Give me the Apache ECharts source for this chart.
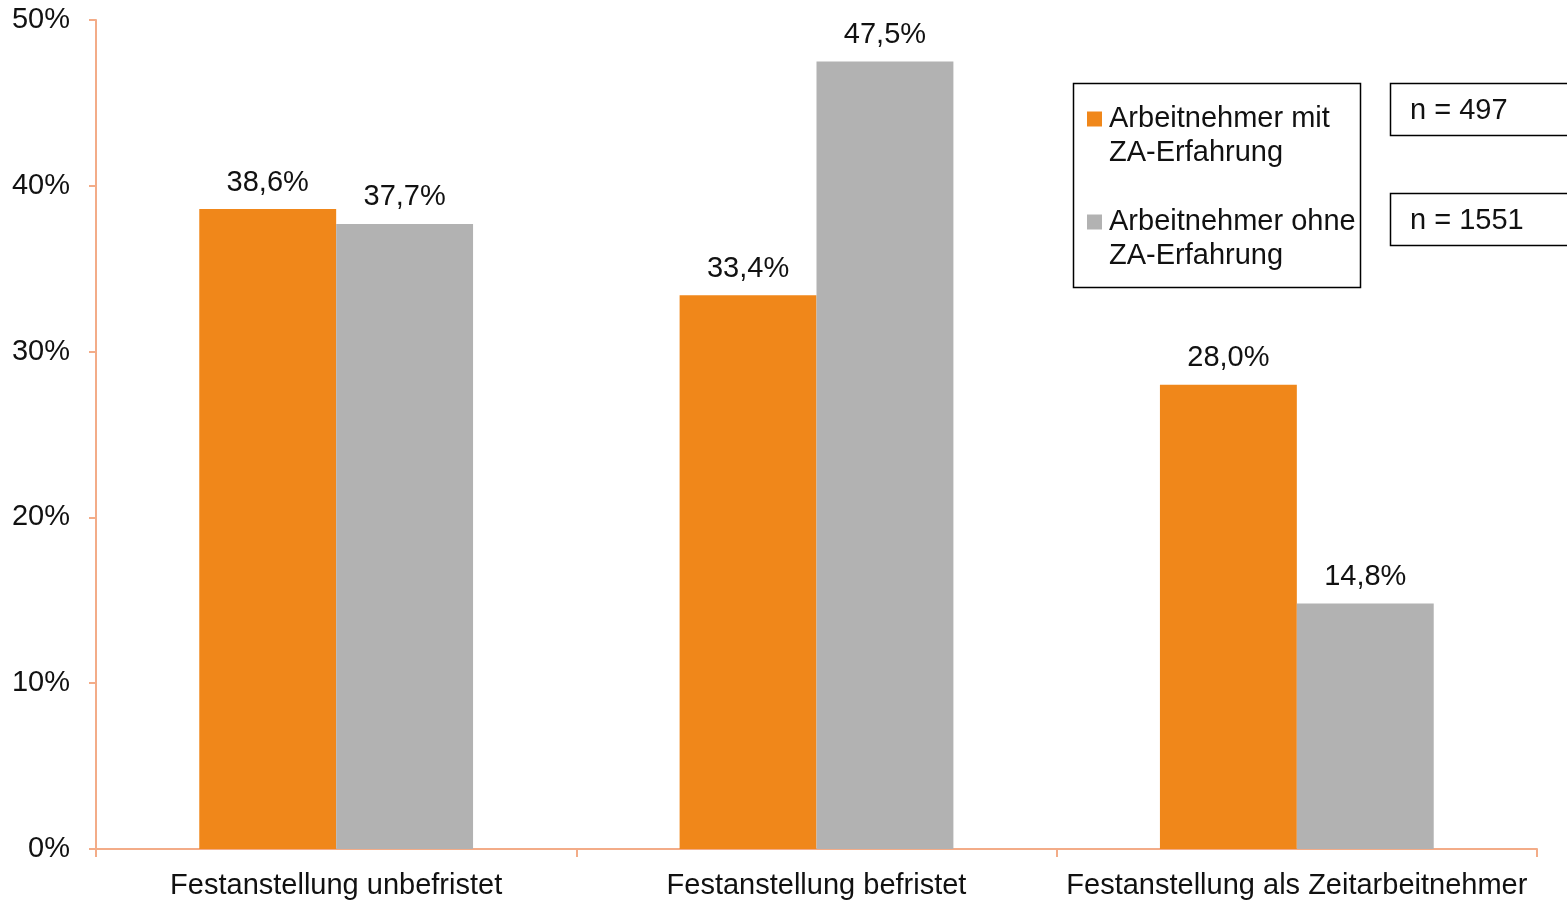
<!DOCTYPE html>
<html>
<head>
<meta charset="utf-8">
<script src="https://cdn.jsdelivr.net/npm/echarts@6/dist/echarts.min.js"></script>
<style>
html,body{margin:0;padding:0;background:#fff;}
#chart{width:1567px;height:901px;}
</style>
</head>
<body>
<div id="chart"></div>
<script>
var categories = ['Festanstellung unbefristet', 'Festanstellung befristet', 'Festanstellung als Zeitarbeitnehmer'];
var seriesNames = ['Arbeitnehmer mit\nZA-Erfahrung', 'Arbeitnehmer ohne\nZA-Erfahrung'];
var withZA = [38.6, 33.4, 28.0];
var withoutZA = [37.7, 47.5, 14.8];
var sampleSizes = ['n = 497', 'n = 1551'];

var FONT = '"Liberation Sans", Arial, sans-serif';
var FS = 29;
var AXIS_COLOR = '#F3AC88';

function fmt(v) { return v.toFixed(1).replace('.', ',') + '%'; }

var chart = echarts.init(document.getElementById('chart'));
var option = {
  backgroundColor: '#fff',
  animation: false,
  textStyle: { fontFamily: FONT },
  grid: { left: 96, right: 30, top: 20, bottom: 52, containLabel: false },
  legend: {
    orient: 'vertical',
    left: 1087,
    top: 68,
    padding: 0,
    itemGap: 1,
    itemWidth: 15,
    itemHeight: 15,
    icon: 'rect',
    selectedMode: false,
    data: seriesNames,
    formatter: function (name) { return '\n' + name; },
    textStyle: { fontFamily: FONT, fontSize: FS, lineHeight: 34, color: '#111', padding: [0, 0, 0, 2] }
  },
  xAxis: {
    type: 'category',
    data: categories,
    axisLine: { lineStyle: { color: AXIS_COLOR, width: 2 } },
    axisTick: { show: true, length: 8, lineStyle: { color: AXIS_COLOR, width: 2 } },
    axisLabel: { interval: 0, fontFamily: FONT, fontSize: FS, color: '#111', margin: 22 }
  },
  yAxis: {
    type: 'value',
    min: 0,
    max: 50,
    interval: 10,
    splitLine: { show: false },
    axisLine: { show: true, lineStyle: { color: AXIS_COLOR, width: 2 } },
    axisTick: { show: true, length: 7, lineStyle: { color: AXIS_COLOR, width: 2 } },
    axisLabel: { fontFamily: FONT, fontSize: FS, color: '#111', margin: 26, formatter: '{value}%' }
  },
  series: [
    {
      name: seriesNames[0],
      type: 'bar',
      data: withZA,
      barGap: '0%',
      barCategoryGap: '43%',
      itemStyle: { color: '#F0871A' },
      label: { show: true, position: 'top', distance: 12, fontFamily: FONT, fontSize: FS, color: '#111', formatter: function (p) { return fmt(p.value); } }
    },
    {
      name: seriesNames[1],
      type: 'bar',
      data: withoutZA,
      barGap: '0%',
      barCategoryGap: '43%',
      itemStyle: { color: '#B2B2B2' },
      label: { show: true, position: 'top', distance: 12, fontFamily: FONT, fontSize: FS, color: '#111', formatter: function (p) { return fmt(p.value); } }
    }
  ],
  graphic: [
    { type: 'rect', shape: { x: 1073.5, y: 83.5, width: 287, height: 204 }, style: { fill: 'none', stroke: '#000', lineWidth: 1.5 }, silent: true },
    { type: 'rect', shape: { x: 1390.5, y: 83.5, width: 200, height: 52 }, style: { fill: 'none', stroke: '#000', lineWidth: 1.5 }, silent: true },
    { type: 'text', x: 1410, y: 111, style: { text: sampleSizes[0], font: FS + 'px ' + FONT, fill: '#111', verticalAlign: 'middle' }, silent: true },
    { type: 'rect', shape: { x: 1390.5, y: 193.5, width: 200, height: 52 }, style: { fill: 'none', stroke: '#000', lineWidth: 1.5 }, silent: true },
    { type: 'text', x: 1410, y: 221, style: { text: sampleSizes[1], font: FS + 'px ' + FONT, fill: '#111', verticalAlign: 'middle' }, silent: true }
  ]
};
chart.setOption(option);
</script>
</body>
</html>
